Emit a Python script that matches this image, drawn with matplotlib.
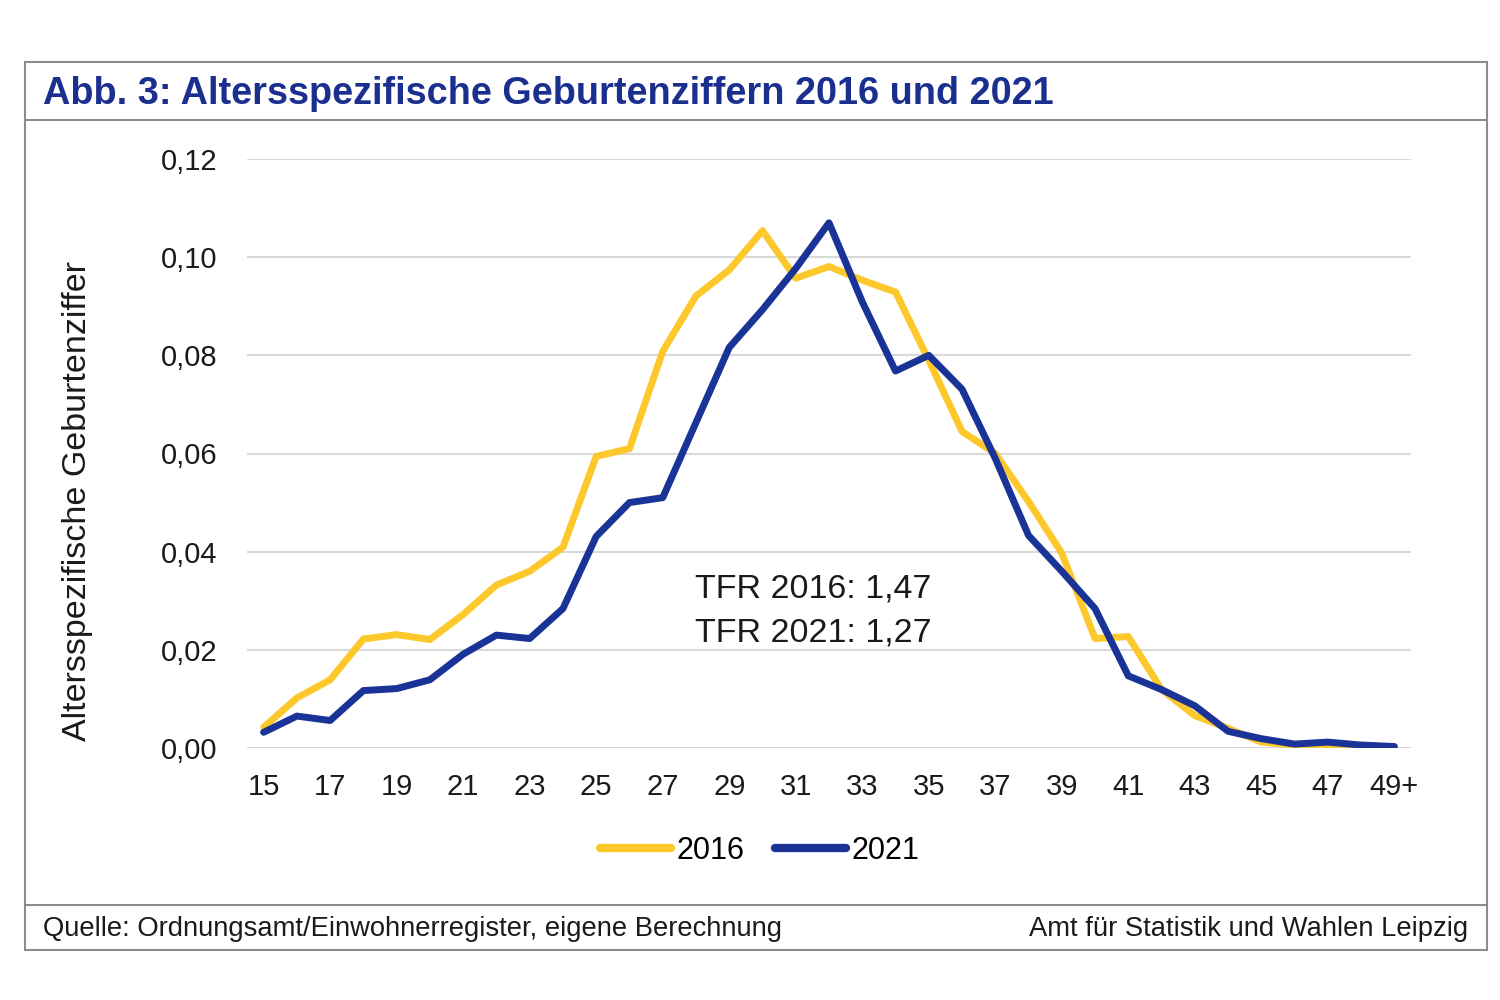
import matplotlib
matplotlib.use("Agg")
import matplotlib.pyplot as plt
from matplotlib.patches import Rectangle
from matplotlib.lines import Line2D

plt.rcParams['font.family'] = ['Liberation Sans', 'DejaVu Sans']

# age groups 15 .. 49+
ages = [str(a) for a in range(15, 49)] + ['49+']
tick_labels = [a if i % 2 == 0 else '' for i, a in enumerate(ages)]

asfr_2016 = [0.0042, 0.0102, 0.0139, 0.0222, 0.0231, 0.0221, 0.0272, 0.0332,
             0.0360, 0.0409, 0.0594, 0.0610, 0.0808, 0.0921, 0.0974, 0.1054,
             0.0957, 0.0981, 0.0953, 0.0929, 0.0790, 0.0645, 0.0600, 0.0502,
             0.0397, 0.0223, 0.0227, 0.0119, 0.0066, 0.0040, 0.0012, 0.0006,
             0.0005, 0.0003, 0.0002]
asfr_2021 = [0.0032, 0.0065, 0.0056, 0.0117, 0.0121, 0.0139, 0.0191, 0.0230,
             0.0223, 0.0284, 0.0431, 0.0500, 0.0510, 0.0663, 0.0816, 0.0893,
             0.0977, 0.1070, 0.0909, 0.0768, 0.0800, 0.0731, 0.0590, 0.0433,
             0.0360, 0.0284, 0.0147, 0.0119, 0.0086, 0.0034, 0.0019, 0.0008,
             0.0012, 0.0006, 0.0003]

yticks = [0.0, 0.02, 0.04, 0.06, 0.08, 0.10, 0.12]
ytick_labels = ['0,00', '0,02', '0,04', '0,06', '0,08', '0,10', '0,12']

YELLOW = '#fdc82b'
BLUE = '#1a3396'
TITLE_BLUE = '#1b2f8e'
FRAME = '#8c8c8c'
TXT = '#1a1a1a'

fig = plt.figure(figsize=(15, 10), dpi=100)

# outer frame, title separator and footer separator
fig.patches.append(Rectangle((25 / 1500, 50 / 1000), 1462 / 1500, 888 / 1000,
                             transform=fig.transFigure, fill=False,
                             edgecolor=FRAME, linewidth=1.5))
fig.add_artist(Line2D([25 / 1500, 1487 / 1500], [880 / 1000, 880 / 1000],
                      color=FRAME, linewidth=1.5))
fig.add_artist(Line2D([25 / 1500, 1487 / 1500], [95 / 1000, 95 / 1000],
                      color=FRAME, linewidth=1.5))

fig.text(43 / 1500, 906 / 1000, 'Abb. 3: Altersspezifische Geburtenziffern 2016 und 2021',
         fontsize=27.3, fontweight='bold', color=TITLE_BLUE, va='center', ha='left')

ax = fig.add_axes([247 / 1500, 252 / 1000, 1164 / 1500, 589 / 1000])
x = list(range(len(ages)))
ax.plot(x, asfr_2016, color=YELLOW, linewidth=5, label='2016',
        solid_joinstyle='round', solid_capstyle='round', zorder=3)
ax.plot(x, asfr_2021, color=BLUE, linewidth=5, label='2021',
        solid_joinstyle='round', solid_capstyle='round', zorder=4)

ax.set_xlim(-0.5, len(ages) - 0.5)
ax.set_ylim(0, 0.12)
ax.set_yticks(yticks)
ax.set_yticklabels(ytick_labels)
ax.set_xticks(x)
ax.set_xticklabels(tick_labels)
ax.tick_params(axis='both', length=0, labelsize=21, colors=TXT)
ax.tick_params(axis='y', pad=21)
ax.tick_params(axis='x', pad=18)
ax.grid(axis='y', color='#d9d9d9', linewidth=1.5)
ax.set_axisbelow(True)
for s in ax.spines.values():
    s.set_visible(False)

ax.set_ylabel('Altersspezifische Geburtenziffer', fontsize=24.5, color=TXT)
ax.yaxis.set_label_coords(-0.132, 0.42)

ax.text(0.385, 0.233, 'TFR 2016: 1,47\nTFR 2021: 1,27', transform=ax.transAxes,
        fontsize=24.5, color=TXT, ha='left', va='center', linespacing=1.55)

leg = fig.legend(loc='center', bbox_to_anchor=(760 / 1500, 149 / 1000), ncol=2,
                 frameon=False, fontsize=22, handlelength=2.3, handletextpad=0.2,
                 columnspacing=1.0)
for h in leg.get_lines():
    h.set_linewidth(6)

fig.text(43 / 1500, 71 / 1000, 'Quelle: Ordnungsamt/Einwohnerregister, eigene Berechnung',
         fontsize=19.7, color=TXT, va='center', ha='left')
fig.text(1468 / 1500, 71 / 1000, 'Amt für Statistik und Wahlen Leipzig',
         fontsize=19.7, color=TXT, va='center', ha='right')

fig.savefig('out.png', dpi=100, facecolor='white')
